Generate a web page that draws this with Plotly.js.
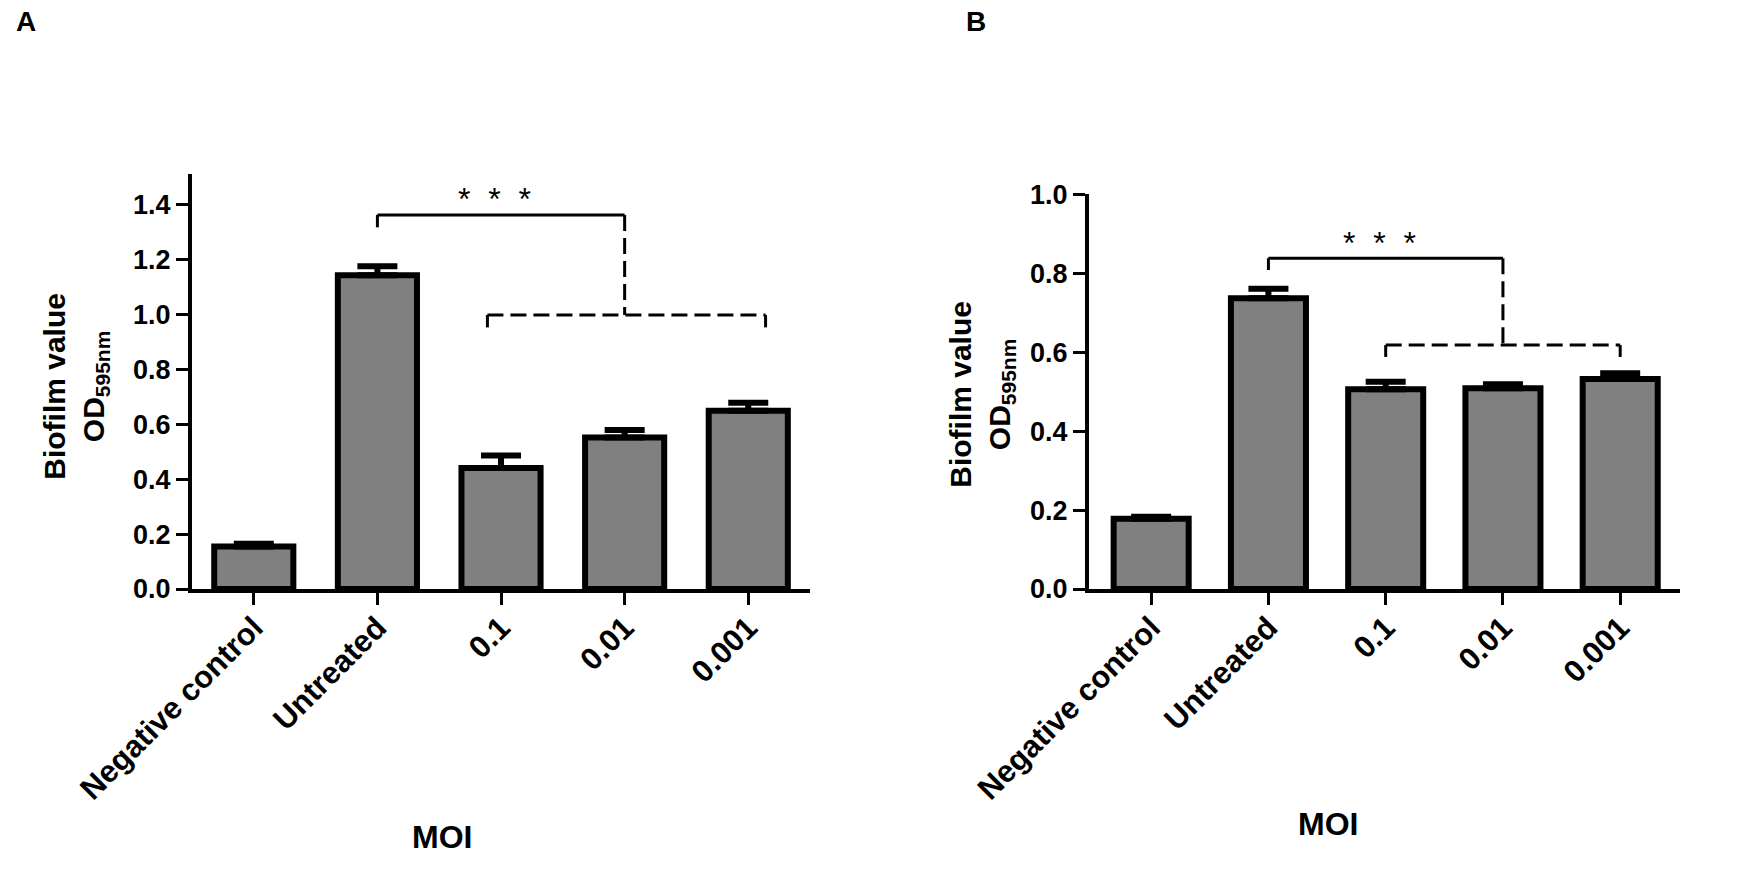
<!DOCTYPE html>
<html>
<head>
<meta charset="utf-8">
<script src="https://cdn.plot.ly/plotly-3.0.1.min.js"></script>
<style>
  body { margin: 0; background: white; }
  #chart { width: 1750px; height: 891px; }
</style>
</head>
<body>
<div id="chart"></div>
<script>
  // Données
  const categories = ['Negative control', 'Untreated', '0.1', '0.01', '0.001'];

  // Panneau A
  const biofilmA = [0.155, 1.142, 0.440, 0.551, 0.649];
  const errA = [0.010, 0.032, 0.046, 0.028, 0.029];

  // Panneau B
  const biofilmB = [0.178, 0.737, 0.506, 0.509, 0.532];
  const errB = [0.005, 0.024, 0.019, 0.010, 0.015];

  // Hauteurs des accolades de significativité (y du trait plein, y du trait pointillé)
  const bracketA = [1.361, 0.997];
  const bracketB = [0.838, 0.618];

  const FONT = 'Arial, "Liberation Sans", Helvetica, sans-serif';

  function barTrace(y, err, xa, ya) {
    return {
      type: 'bar', x: categories, y: y, xaxis: xa, yaxis: ya,
      marker: { color: '#808080', line: { color: 'black', width: 6 } },
      error_y: { type: 'data', symmetric: false, array: err, arrayminus: err.map(() => 0),
                 color: 'black', thickness: 6, width: 20 },
      hoverinfo: 'skip', showlegend: false
    };
  }

  function line(xr, yr, x0, y0, x1, y1, dash) {
    return { type: 'line', xref: xr, yref: yr, x0: x0, y0: y0, x1: x1, y1: y1,
             line: { color: 'black', width: 3, dash: dash } };
  }

  // accolade : Untreated -> groupe MOI
  function bracket(xr, yr, b, drop, left, right) {
    let top = b[0], low = b[1];
    return [
      line(xr, yr, 1, top - drop, 1, top, 'solid'),
      line(xr, yr, 1, top, 3, top, 'solid'),
      line(xr, yr, 3, top, 3, low, '16px,7px'),
      line(xr, yr, left, low, right, low, '16px,7px'),
      line(xr, yr, left, low - drop, left, low, 'solid'),
      line(xr, yr, right, low - drop, right, low, 'solid')
    ];
  }

  function xAxis(domain, range, anchor) {
    return {
      domain: domain, range: range, anchor: anchor, type: 'category',
      showline: true, linewidth: 4, linecolor: 'black', showgrid: false, zeroline: false,
      ticks: 'outside', ticklen: 12, tickwidth: 3, tickcolor: 'black', tickangle: -45,
      ticklabelstandoff: -8,
      tickfont: { family: FONT, size: 31, color: 'black', weight: 'bold' }, fixedrange: true
    };
  }

  function yAxis(domain, range, anchor) {
    return {
      domain: domain, range: range, anchor: anchor,
      showline: true, linewidth: 4, linecolor: 'black', showgrid: false, zeroline: false,
      ticks: 'outside', ticklen: 12, tickwidth: 3, tickcolor: 'black',
      dtick: 0.2, tick0: 0, tickformat: '.1f',
      tickfont: { family: FONT, size: 27, color: 'black', weight: 'bold' }, fixedrange: true
    };
  }

  function text(x, y, t, opts) {
    return Object.assign({ x: x, y: y, text: t, showarrow: false,
      xanchor: 'center', yanchor: 'middle',
      font: { family: FONT, size: 32, color: 'black', weight: 'bold' } }, opts);
  }

  const yTitle = 'Biofilm value<br>OD<sub>595nm</sub>';
  const stars = '*\u00a0\u00a0*\u00a0\u00a0*';

  let data = [barTrace(biofilmA, errA, 'x', 'y'), barTrace(biofilmB, errB, 'x2', 'y2')];

  let layout = {
    width: 1750, height: 891,
    margin: { l: 0, r: 0, t: 0, b: 0 },
    paper_bgcolor: 'white', plot_bgcolor: 'white',
    bargap: 0.36,
    xaxis: xAxis([0.1097, 0.4629], [-0.5, 4.5], 'y'),
    yaxis: yAxis([0.3389, 0.8047], [0, 1.51], 'x'),
    xaxis2: xAxis([0.6223, 0.96], [-0.53, 4.51], 'y2'),
    yaxis2: yAxis([0.3389, 0.7819], [0, 1.0], 'x2'),
    shapes: bracket('x', 'y', bracketA, 0.045, 1.89, 4.14)
      .concat(bracket('x2', 'y2', bracketB, 0.03, 2, 4)),
    annotations: [
      text(0.008, 0.996, 'A', { xref: 'paper', yref: 'paper', xanchor: 'left', yanchor: 'top',
        font: { family: FONT, size: 28, color: 'black', weight: 'bold' } }),
      text(0.551, 0.996, 'B', { xref: 'paper', yref: 'paper', xanchor: 'left', yanchor: 'top',
        font: { family: FONT, size: 28, color: 'black', weight: 'bold' } }),
      text(0.0434, 0.567, yTitle, { xref: 'paper', yref: 'paper', textangle: -90,
        font: { family: FONT, size: 30, color: 'black', weight: 'bold' } }),
      text(0.5611, 0.558, yTitle, { xref: 'paper', yref: 'paper', textangle: -90,
        font: { family: FONT, size: 30, color: 'black', weight: 'bold' } }),
      text(0.2526, 0.061, 'MOI', { xref: 'paper', yref: 'paper' }),
      text(0.7589, 0.075, 'MOI', { xref: 'paper', yref: 'paper' }),
      text(1.95, 1.42, stars, { xref: 'x', yref: 'y',
        font: { family: FONT, size: 32, color: 'black' } }),
      text(1.95, 0.877, stars, { xref: 'x2', yref: 'y2',
        font: { family: FONT, size: 32, color: 'black' } })
    ]
  };

  Plotly.newPlot('chart', data, layout, { staticPlot: true });
</script>
</body>
</html>
